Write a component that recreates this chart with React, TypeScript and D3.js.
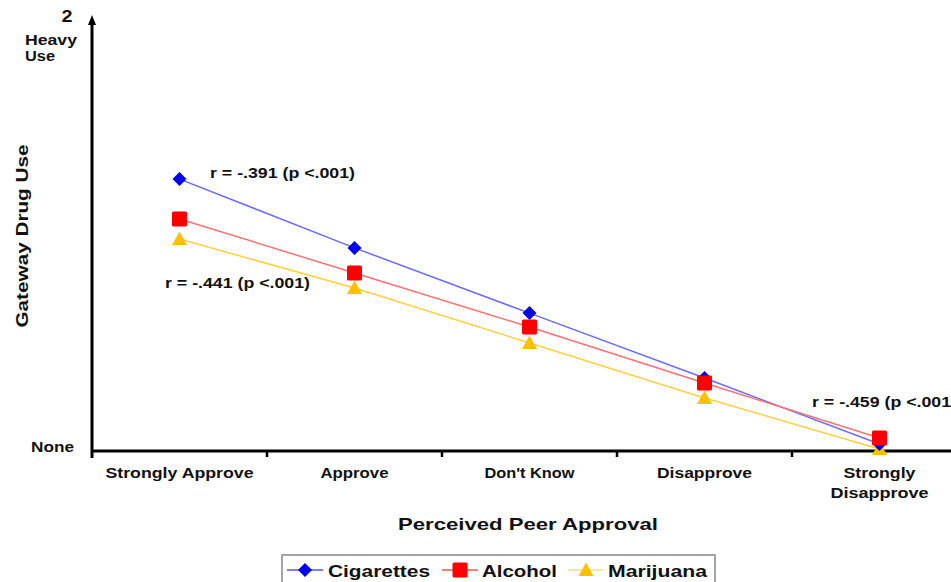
import React from "react";
import * as d3 from "d3";

const categories = ["Strongly Approve", "Approve", "Don't Know", "Disapprove", "Strongly Disapprove"];
const cigarettes = [1.256, 0.938, 0.637, 0.337, 0.032];
const alcohol = [1.072, 0.822, 0.573, 0.314, 0.06];
const marijuana = [0.979, 0.753, 0.499, 0.245, 0.009];
const annotations = ["r = -.391 (p <.001)", "r = -.441 (p <.001)", "r = -.459 (p <.001)"];

const W = 951;
const H = 582;
const FONT = "'Liberation Sans', Arial, sans-serif";

export default function App() {
  const x = d3.scaleBand<string>().domain(categories).range([92, 967]).padding(0);
  const y = d3.scaleLinear().domain([0, 2]).range([451, 18]);
  const cx = (c: string) => (x(c) as number) + x.bandwidth() / 2;

  const series = [
    { name: "Cigarettes", values: cigarettes, line: "#6b6bff", fill: "#0000ee", shape: "diamond" },
    { name: "Alcohol", values: alcohol, line: "#ff7070", fill: "#ff0000", shape: "square" },
    { name: "Marijuana", values: marijuana, line: "#ffd040", fill: "#ffc000", shape: "triangle" },
  ];

  const lineGen = d3
    .line<number>()
    .x((_, i) => cx(categories[i]))
    .y((d) => y(d));

  const marker = (shape: string, px: number, py: number, fill: string, key: string) => {
    if (shape === "diamond") {
      const s = 7;
      return <path key={key} d={`M${px},${py - s}L${px + s},${py}L${px},${py + s}L${px - s},${py}Z`} fill={fill} />;
    }
    if (shape === "square") {
      const s = 7.5;
      return <rect key={key} x={px - s} y={py - s} width={2 * s} height={2 * s} rx={1.5} fill={fill} />;
    }
    const s = 7.5;
    return <path key={key} d={`M${px},${py - s}L${px + s},${py + s * 0.8}L${px - s},${py + s * 0.8}Z`} fill={fill} />;
  };

  const tickXs = categories.slice(1).map((c) => x(c) as number);

  const txt = (
    s: string,
    px: number,
    py: number,
    len: number,
    size: number,
    anchor: "start" | "middle" | "end" = "start",
    extra: any = {}
  ) => (
    <text
      x={px}
      y={py}
      fontSize={size}
      fontWeight="bold"
      fontFamily={FONT}
      textAnchor={anchor}
      textLength={len}
      lengthAdjust="spacingAndGlyphs"
      fill="#111"
      {...extra}
    >
      {s}
    </text>
  );

  const catLabels = [
    { lines: ["Strongly Approve"], widths: [148] },
    { lines: ["Approve"], widths: [68] },
    { lines: ["Don't Know"], widths: [90] },
    { lines: ["Disapprove"], widths: [95] },
    { lines: ["Strongly", "Disapprove"], widths: [72, 98] },
  ];

  const legendItems = [
    { s: series[0], lx: 287, tx: 328, tw: 102 },
    { s: series[1], lx: 442, tx: 482, tw: 75 },
    { s: series[2], lx: 568, tx: 608, tw: 99 },
  ];

  return (
    <svg width={W} height={H} style={{ position: "absolute", left: 0, top: 0, background: "#fff" }}>
      <rect x={0} y={0} width={W} height={H} fill="#fff" />

      {/* y axis */}
      <line x1={92} x2={92} y1={22} y2={458} stroke="#000" strokeWidth={3} />
      <path d="M92,15L88,25L96,25Z" fill="#000" />
      {/* x axis */}
      <line x1={91} x2={W} y1={451} y2={451} stroke="#000" strokeWidth={3} />
      {tickXs.map((t, i) => (
        <line key={i} x1={t} x2={t} y1={451} y2={457} stroke="#000" strokeWidth={2.5} />
      ))}

      {/* y labels */}
      {txt("2", 67, 22, 11, 16, "middle")}
      {txt("Heavy", 25, 45, 52, 15)}
      {txt("Use", 25, 61, 30, 15)}
      {txt("None", 31, 452, 43, 15)}
      {txt("Gateway Drug Use", 0, 0, 183, 17, "middle", { transform: `translate(28,236) rotate(-90)` })}

      {/* category labels */}
      {catLabels.map((c, i) =>
        c.lines.map((l, j) => (
          <g key={`${i}-${j}`}>{txt(l, cx(categories[i]), 478 + j * 20, c.widths[j], 14, "middle")}</g>
        ))
      )}

      {txt("Perceived Peer Approval", 528, 530, 260, 17, "middle")}

      {/* series lines */}
      {series.map((s) => (
        <path key={s.name} d={lineGen(s.values) as string} fill="none" stroke={s.line} strokeWidth={1.5} />
      ))}
      {/* markers (draw marijuana, cig, alcohol order to mimic overlap) */}
      {[series[2], series[0], series[1]].map((s) =>
        s.values.map((v, i) => marker(s.shape, cx(categories[i]), y(v), s.fill, `${s.name}-${i}`))
      )}

      {/* annotations */}
      {txt(annotations[0], 210, 178, 145, 14)}
      {txt(annotations[1], 165, 288, 145, 14)}
      {txt(annotations[2], 812, 407, 145, 14)}

      {/* legend */}
      <rect x={282} y={555} width={433} height={30} fill="#fff" stroke="#888" strokeWidth={1.5} />
      {legendItems.map((it) => (
        <g key={it.s.name}>
          <line x1={it.lx} x2={it.lx + 36} y1={570} y2={570} stroke={it.s.fill === "#ffc000" ? "#ffd040" : it.s.fill} strokeWidth={1.2} />
          {marker(it.s.shape, it.lx + 18, 570, it.s.fill, it.s.name + "-leg")}
          {txt(it.s.name, it.tx, 577, it.tw, 17)}
        </g>
      ))}
    </svg>
  );
}
